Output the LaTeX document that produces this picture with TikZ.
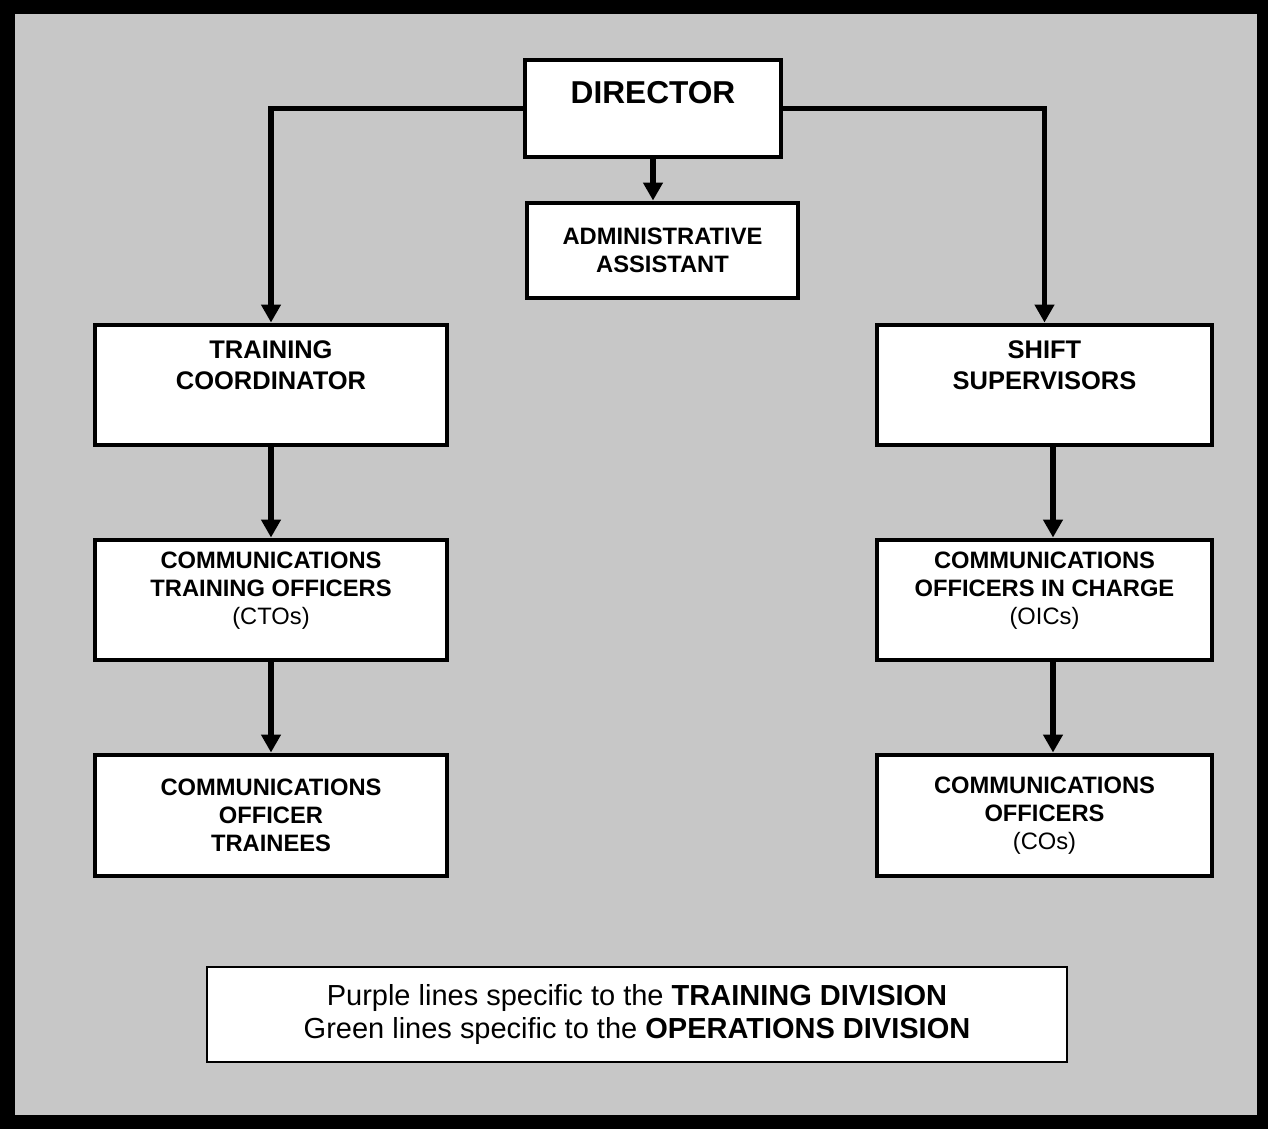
\documentclass[tikz,border=0pt]{standalone}
\usepackage{fontspec}
\setmainfont{Liberation Sans}
\usetikzlibrary{positioning, arrows.meta, calc}

\begin{document}
\begin{tikzpicture}[
    every node/.style={font=\fontsize{13.5}{15.9}\selectfont\bfseries},
    box/.style={rectangle, draw, line width=2.8pt, fill=white, align=center, inner sep=2pt},
    headbox/.style={box, minimum width=5.12cm, minimum height=1.94cm, font=\fontsize{18}{21.6}\selectfont\bfseries},
    leadbox/.style={box, minimum width=7.04cm, minimum height=2.40cm, font=\fontsize{14.5}{17.6}\selectfont\bfseries},
    unitbox/.style={box, minimum width=7.04cm, minimum height=2.40cm},
    keybox/.style={rectangle, draw, line width=1.6pt, fill=white, align=center, minimum width=17.20cm, minimum height=1.90cm, font=\fontsize{16.5}{18.7}\selectfont},
    arrow/.style={-{Triangle[width=0.38cm, length=0.36cm]}, line width=3.4pt}]

  \fill[black] (0,0) rectangle (25.36,-22.58);
  \fill[black!22] (0.30,-0.28) rectangle (25.14,-22.30);

  \node[headbox] (dir) at (13.06,-2.17) {DIRECTOR\\[-10pt]\strut};
  \node[unitbox, minimum width=5.42cm, minimum height=1.90cm] (adm) at (13.25,-5.01) {ADMINISTRATIVE\\ASSISTANT};

  \node[leadbox] (trn) at (5.42,-7.70) {TRAINING\\COORDINATOR\\\strut};
  \node[leadbox, minimum width=6.70cm] (shf) at (20.89,-7.70) {SHIFT\\SUPERVISORS\\\strut};

  \node[unitbox] (cto) at (5.42,-12.00) {COMMUNICATIONS\\TRAINING OFFICERS\\{\mdseries (CTOs)}\\[-7pt]\strut};
  \node[unitbox, minimum width=6.70cm] (oic) at (20.89,-12.00) {COMMUNICATIONS\\OFFICERS IN CHARGE\\{\mdseries (OICs)}\\[-7pt]\strut};

  \node[unitbox, minimum height=2.42cm] (otr) at (5.42,-16.31) {COMMUNICATIONS\\OFFICER\\TRAINEES};
  \node[unitbox, minimum width=6.70cm, minimum height=2.42cm] (cos) at (20.89,-16.31) {COMMUNICATIONS\\OFFICERS\\{\mdseries (COs)}};

  \node[keybox] (key) at (12.74,-20.29) {Purple lines specific to the \textbf{TRAINING DIVISION}\\Green lines specific to the \textbf{OPERATIONS DIVISION}};

  \draw[arrow] (dir.west) -| (trn.north);
  \draw[arrow] (dir.east) -| (shf.north);
  \draw[arrow] (dir.south) -- (dir.south |- adm.north);
  \draw[arrow] (trn.south) -- (cto.north);
  \draw[arrow] (cto.south) -- (otr.north);
  \draw[arrow] ([xshift=0.17cm]shf.south) -- ([xshift=0.17cm]oic.north);
  \draw[arrow] ([xshift=0.17cm]oic.south) -- ([xshift=0.17cm]cos.north);
\end{tikzpicture}
\end{document}
